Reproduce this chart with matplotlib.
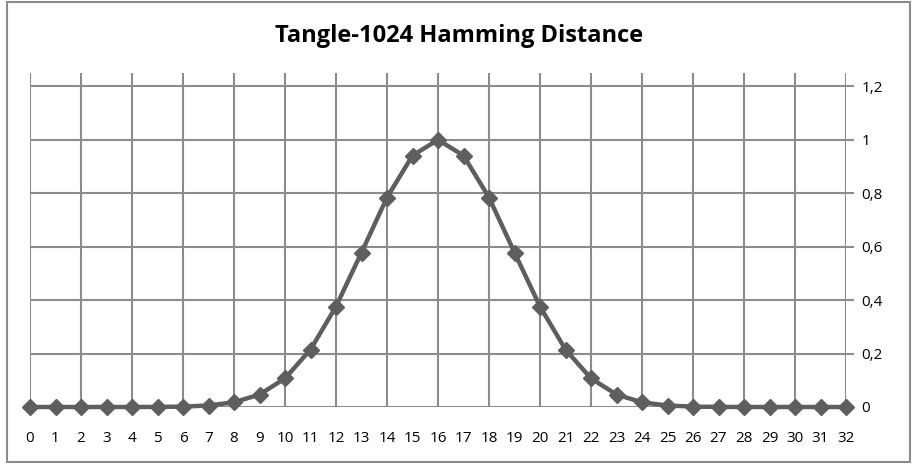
import numpy as np
import matplotlib.pyplot as plt
from matplotlib.patches import Rectangle

distance = list(range(33))
ratio = [0, 0, 0, 0, 0, 0.0003, 0.0015, 0.0056, 0.0175, 0.0467, 0.107,
         0.215, 0.376, 0.578, 0.784, 0.941, 1.0, 0.941, 0.784, 0.578,
         0.376, 0.215, 0.107, 0.0467, 0.0175, 0.0056, 0.0015, 0.0003,
         0, 0, 0, 0, 0]
y_ticks = [0, 0.2, 0.4, 0.6, 0.8, 1.0, 1.2]
y_labels = ["0", "0,2", "0,4", "0,6", "0,8", "1", "1,2"]

plt.rcParams['font.family'] = ['Open Sans', 'DejaVu Sans']
grid_col = "#8c8c8c"
line_col = "#5e5e5e"

fig = plt.figure(figsize=(9.15, 4.66), dpi=100)
fig.patches.append(Rectangle((7 / 915, 4 / 466), 903 / 915, 460 / 466,
                             transform=fig.transFigure, fill=False,
                             edgecolor=grid_col, linewidth=1.5))
fig.text(459 / 915, 1 - 36 / 466, "Tangle-1024 Hamming Distance",
         ha="center", va="center", fontsize=17, fontweight="bold")

ax = fig.add_axes([30 / 915, 59 / 466, 816 / 915, 334 / 466])
ax.plot(distance, ratio, color=line_col, linewidth=3.2, marker="D",
        markersize=8.5, zorder=3, clip_on=False)

ax.set_xlim(0, 32)
ax.set_ylim(0, 1.25)
ax.set_xticks(distance)
ax.set_xticklabels([str(d) for d in distance], fontsize=11)
ax.set_yticks(y_ticks)
ax.set_yticklabels(y_labels, fontsize=11)
ax.yaxis.tick_right()
ax.tick_params(axis="x", length=0, pad=17)
ax.tick_params(axis="y", length=6, width=1.5, color=grid_col, pad=5)

for x in distance[::2]:
    ax.axvline(x, color=grid_col, linewidth=1.5, zorder=1)
for y in y_ticks[1:]:
    ax.axhline(y, color=grid_col, linewidth=1.5, zorder=1)
ax.axhline(0, color=grid_col, linewidth=1.5, zorder=1)

for s in ax.spines.values():
    s.set_visible(False)

fig.savefig("out.png", dpi=100)
